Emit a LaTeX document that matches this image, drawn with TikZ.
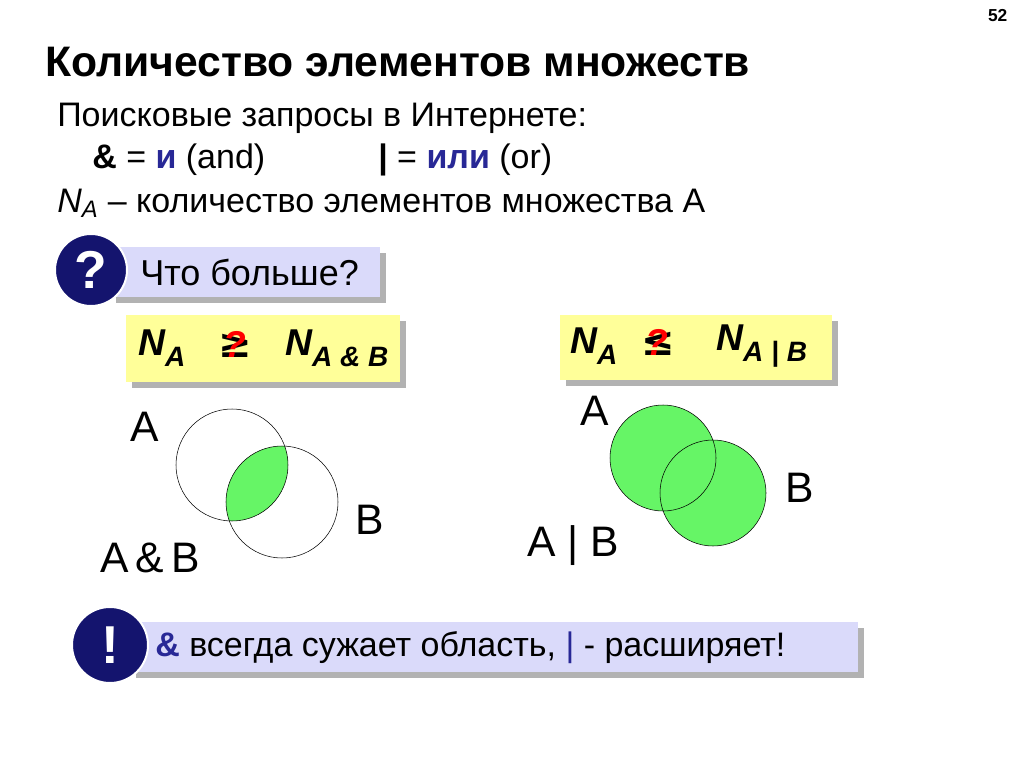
\documentclass[tikz,border=0pt]{standalone}
\usepackage{fontspec}
\setmainfont{Liberation Sans}
\newfontfamily\symfont{DejaVu Sans}
\usepackage{tikz}
\usetikzlibrary{positioning}
\definecolor{darknavy}{RGB}{20,20,110}
\definecolor{lavender}{RGB}{218,218,250}
\definecolor{paleyellow}{RGB}{255,255,153}
\definecolor{venngreen}{RGB}{102,245,102}
\definecolor{linkblue}{RGB}{40,40,150}
\newcommand{\bigtext}{\fontsize{25.5}{30}\selectfont}
\newcommand{\formula}{\fontsize{28}{32}\selectfont\bfseries\itshape}
\newcommand{\idx}[1]{\raisebox{-0.3em}{\fontsize{21}{24}\selectfont #1}}

\begin{document}
\begin{tikzpicture}[x=0.75pt, y=-0.75pt]
        \tikzstyle{plain}=[anchor=west, inner sep=0pt, font=\bigtext]
        \tikzstyle{setlabel}=[inner sep=0pt, font=\fontsize{32}{36}\selectfont]
        \tikzstyle{badge}=[circle, fill=darknavy, draw=white, line width=1.5pt, minimum size=72pt*0.75, text=white, font=\fontsize{40}{44}\selectfont\bfseries]
        \tikzstyle{relation}=[anchor=west, inner sep=0pt, font=\fontsize{30}{34}\selectfont\symfont\bfseries]
        \tikzstyle{shadow}=[fill=black!30]

        \useasboundingbox (0,0) rectangle (1024,767);

        % Heading
        \node[anchor=east, font=\fontsize{13}{15}\selectfont\bfseries] (page) at (1012,16) {52};
        \node[plain, font=\fontsize{32}{36}\selectfont\bfseries] (title) at (45,62) {Количество элементов множеств};
        \node[plain] (search) at (57,118) {Поисковые запросы в Интернете:};
        \node[plain] (andline) at (92,160) {\textbf{\&} = \textcolor{linkblue}{\textbf{и}} (and)};
        \node[plain] (orline) at (378,160) {\textbf{|} = \textcolor{linkblue}{\textbf{или}} (or)};
        \node[plain] (count) at (57,203) {\textit{N\textsubscript{A}} – количество элементов множества A};

        % Question box
        \fill[shadow] (116,253) rectangle (386,303);
        \fill[lavender] (110,247) rectangle (380,297);
        \node[plain, font=\fontsize{27}{30}\selectfont] (question) at (140,272) {Что больше?};
        \node[badge] (qmark) at (91,270) {?};

        % Yellow formula boxes
        \fill[shadow] (132,321) rectangle (406,388);
        \fill[paleyellow] (126,315) rectangle (400,382);
        \node[plain, font=\formula] (na1) at (138,348) {N\idx{A}};
        \node[relation] (ge) at (218,346) {≥};
        \node[font=\formula, text=red] (q1) at (235,344) {?};
        \node[plain, font=\formula] (nab) at (285,348) {N\idx{A \& B}};

        \fill[shadow] (566,321) rectangle (838,386);
        \fill[paleyellow] (560,315) rectangle (832,380);
        \node[plain, font=\formula] (na2) at (570,346) {N\idx{A}};
        \node[relation] (le) at (641,344) {≤};
        \node[font=\formula, text=red] (q2) at (657,342) {?};
        \node[plain, font=\formula] (naorb) at (716,346) {N\idx{A | B}};

        % Intersection
        \begin{scope}
          \clip (232,465) circle (56);
          \fill[venngreen] (282,502) circle (56);
        \end{scope}
        \draw (232,465) circle (56);
        \draw (282,502) circle (56);
        \node[setlabel] (la1) at (145,427) {A};
        \node[setlabel] (lb1) at (370,520) {B};
        \node[setlabel] (lab) at (150,558) {A\,\&\,B};

        % Union
        \fill[venngreen] (663,458) circle (53);
        \fill[venngreen] (713,493) circle (53);
        \draw (663,458) circle (53);
        \draw (713,493) circle (53);
        \node[setlabel] (la2) at (595,411) {A};
        \node[setlabel] (lb2) at (800,488) {B};
        \node[setlabel] (laorb) at (573,546) {A | B};

        % Conclusion box
        \fill[shadow] (136,628) rectangle (864,678);
        \fill[lavender] (130,622) rectangle (858,672);
        \node[plain] (rule) at (155,648) {\textcolor{linkblue}{\textbf{\&}} всегда сужает область, \textcolor{linkblue}{|} - расширяет!};
        \node[badge, minimum size=76pt*0.75] (bang) at (110,645) {!};
\end{tikzpicture}
\end{document}
